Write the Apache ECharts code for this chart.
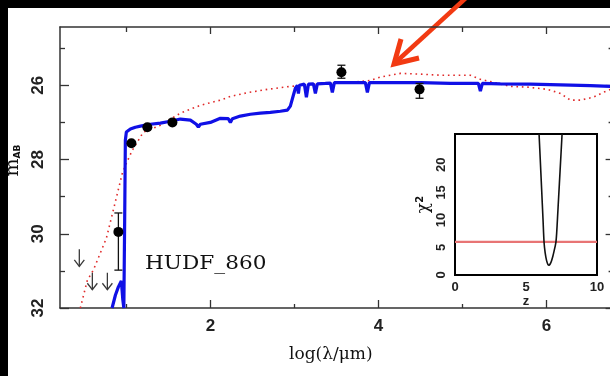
<!DOCTYPE html>
<html>
<head>
<meta charset="utf-8">
<script src="https://cdn.jsdelivr.net/npm/echarts@6/dist/echarts.min.js"></script>
<style>
  html, body { margin: 0; padding: 0; background: #000; }
  #sheet { position: absolute; left: 8px; top: 8px; width: 602px; height: 368px; background: #fff; }
  #chart { position: absolute; left: 0; top: 0; width: 610px; height: 376px; }
</style>
</head>
<body>
<div id="sheet"></div>
<div id="chart"></div>
<script>
// Best-fit template SED (log wavelength, AB magnitude)
const bestFitSed = [
  [0.83,32.0],[0.87,31.65],[0.905,31.43],[0.94,31.27],[0.958,31.78],[0.97,32.0],[0.982,29.1],
  [0.988,27.48],[1.0,27.26],[1.048,27.18],[1.107,27.13],[1.167,27.10],[1.286,27.05],[1.405,27.02],
  [1.524,26.97],[1.643,26.91],[1.762,26.94],[1.833,27.05],[1.857,27.13],[1.881,27.05],[2.0,27.0],
  [2.119,26.89],[2.214,26.90],[2.238,27.0],[2.262,26.9],[2.357,26.83],[2.476,26.78],[2.595,26.75],
  [2.714,26.73],[2.833,26.70],[2.917,26.67],[2.952,26.56],[2.988,26.27],[3.012,26.08],[3.036,26.0],
  [3.048,26.22],[3.06,26.0],[3.083,25.97],[3.119,25.97],[3.143,26.32],[3.167,25.97],[3.226,25.96],
  [3.25,26.22],[3.274,25.96],[3.369,25.95],[3.429,25.94],[3.452,26.19],[3.476,25.93],[3.607,25.93],
  [3.786,25.93],[3.845,25.93],[3.869,26.19],[3.893,25.93],[4.143,25.93],[4.5,25.93],[4.857,25.95],
  [5.155,25.95],[5.19,25.95],[5.214,26.16],[5.238,25.95],[5.452,25.96],[5.81,25.97],[6.167,25.99],
  [6.524,26.01],[6.8,26.03]
];

// Secondary (low-redshift) solution, drawn dotted
const altSed = [
  [0.452,32.0],[0.536,31.25],[0.607,30.98],[0.690,30.52],[0.762,30.12],[0.845,29.36],[0.952,28.37],
  [1.0,28.10],[1.071,27.75],[1.131,27.53],[1.202,27.26],[1.405,27.08],[1.643,26.75],[1.881,26.54],
  [2.119,26.40],[2.238,26.30],[2.440,26.20],[2.679,26.11],[2.952,26.03],[3.31,25.97],[3.667,25.92],
  [3.905,25.87],[4.024,25.78],[4.262,25.68],[4.5,25.70],[4.738,25.73],[4.976,25.73],[5.095,25.73],
  [5.214,25.84],[5.369,25.92],[5.571,26.03],[5.774,26.05],[6.012,26.11],[6.167,26.22],[6.286,26.40],
  [6.405,26.40],[6.56,26.32],[6.679,26.19],[6.8,26.08]
];

// Photometry: [logLambda, mag, errTop, errBottom]
const photometry = [
  [0.905, 29.95, 29.44, 30.98],
  [1.06, 27.56, 27.56, 27.56],
  [1.25, 27.13, 27.13, 27.13],
  [1.548, 27.0, 27.0, 27.0],
  [3.56, 25.65, 25.46, 25.81],
  [4.49, 26.11, 25.95, 26.35]
];

// Non-detections (upper limits)
const upperLimits = [
  [0.44, 30.42],
  [0.595, 31.05],
  [0.774, 31.05]
];

// Main axis ticks
const xMajorTicks = [2, 4, 6];
const xMinorTicks = [1, 3, 5];
const yMajorTicks = [26, 28, 30, 32];
const yMinorTicks = [25, 27, 29, 31];

// Inset: chi-square versus redshift
const chiZ   = [5.92, 6.0, 6.1, 6.2, 6.27, 6.35, 6.45, 6.55, 6.62, 6.7, 6.8, 6.9, 7.0, 7.06, 7.11, 7.16, 7.22, 7.3, 7.4, 7.54];
const chiVal = [25.6, 21.2, 15.6, 10.0, 6.0, 4.0, 2.6, 1.9, 1.8, 2.0, 2.6, 3.5, 4.6, 5.3, 6.0, 7.6, 10.4, 14.2, 18.9, 25.6];
const chiThreshold = 6;
const insetXTicks = [0, 5, 10];
const insetYTicks = [0, 5, 10, 15, 20];

const tickFont = { fontFamily: 'Liberation Sans', fontWeight: 'bold', color: '#222' };
const frame = { lineStyle: { color: '#333', width: 1.5 } };

function mainX(pos, values, len, extra) {
  return Object.assign({
    gridIndex: 0, type: 'value', position: pos, min: 0.21, max: 6.8,
    axisLine: Object.assign({ show: true }, frame),
    axisTick: { show: true, inside: true, length: len, customValues: values, lineStyle: { color: '#333', width: 1.3 } },
    axisLabel: { show: false },
    splitLine: { show: false }
  }, extra || {});
}
function mainY(pos, values, len, extra) {
  return Object.assign({
    gridIndex: 0, type: 'value', position: pos, inverse: true, min: 24.43, max: 32,
    axisLine: Object.assign({ show: true }, frame),
    axisTick: { show: true, inside: true, length: len, customValues: values, lineStyle: { color: '#333', width: 1.3 } },
    axisLabel: { show: false },
    splitLine: { show: false }
  }, extra || {});
}

const chart = echarts.init(document.getElementById('chart'), null, { renderer: 'canvas' });

chart.setOption({
  animation: false,
  backgroundColor: 'transparent',
  grid: [
    { left: 60, top: 27, right: -3.6, bottom: 68, outerBoundsMode: 'none', containLabel: false },
    { left: 455, top: 134, right: 13, bottom: 101, outerBoundsMode: 'none', containLabel: false,
      show: true, backgroundColor: '#fff', borderColor: '#000', borderWidth: 2 }
  ],
  xAxis: [
    mainX('bottom', xMajorTicks, 8, {
      axisLabel: Object.assign({ show: true, customValues: xMajorTicks, fontSize: 17, margin: 10 }, tickFont),
      name: 'log(λ/μm)', nameLocation: 'middle', nameGap: 38,
      nameTextStyle: { fontFamily: 'DejaVu Serif', fontSize: 17, color: '#111', padding: [0, 12, 0, 0] }
    }),
    mainX('bottom', xMinorTicks, 4, { axisLine: { show: false } }),
    mainX('top', xMajorTicks, 7),
    mainX('top', xMinorTicks, 5, { axisLine: { show: false } }),
    {
      gridIndex: 1, type: 'value', min: 0, max: 10,
      axisLine: { show: false }, axisTick: { show: false }, splitLine: { show: false },
      axisLabel: Object.assign({ customValues: insetXTicks, fontSize: 13, margin: 6 }, tickFont),
      name: 'z', nameLocation: 'middle', nameGap: 19,
      nameTextStyle: { fontFamily: 'Liberation Sans', fontWeight: 'bold', fontSize: 13, color: '#222' }
    }
  ],
  yAxis: [
    mainY('left', yMajorTicks, 9, {
      axisLabel: Object.assign({ show: true, customValues: yMajorTicks, fontSize: 17, rotate: 90, margin: 13 }, tickFont),
      name: 'm{sub|AB}', nameLocation: 'middle', nameRotate: 90, nameGap: 27,
      nameTextStyle: {
        fontFamily: 'DejaVu Serif', fontSize: 19, color: '#111', padding: [0, 0, 0, 14],
        rich: { sub: { fontFamily: 'DejaVu Sans', fontSize: 9, fontWeight: 'bold', color: '#111', padding: [10, 0, 0, 0] } }
      }
    }),
    mainY('left', yMinorTicks, 5, { axisLine: { show: false } }),
    mainY('right', yMajorTicks, 8),
    mainY('right', yMinorTicks, 5, { axisLine: { show: false } }),
    {
      gridIndex: 1, type: 'value', min: 0, max: 25.6,
      axisLine: { show: false }, axisTick: { show: false }, splitLine: { show: false },
      axisLabel: Object.assign({ customValues: insetYTicks, fontSize: 13, rotate: 90, margin: 7 }, tickFont),
      name: 'χ{sup|2}', nameLocation: 'middle', nameRotate: 90, nameGap: 22,
      nameTextStyle: {
        fontFamily: 'DejaVu Serif', fontSize: 17, color: '#111',
        rich: { sup: { fontFamily: 'DejaVu Sans', fontSize: 10, fontWeight: 'bold', color: '#111', padding: [0, 0, 8, 0] } }
      }
    }
  ],
  series: [
    {
      type: 'line', xAxisIndex: 0, yAxisIndex: 0, data: altSed, showSymbol: false, clip: true,
      lineStyle: { color: '#e02a2a', width: 1.6, type: [1.6, 3.8] }, z: 3
    },
    {
      type: 'line', xAxisIndex: 0, yAxisIndex: 0, data: bestFitSed, showSymbol: false, clip: true,
      lineStyle: { color: '#1010e6', width: 3.2 }, z: 4
    },
    {
      type: 'custom', xAxisIndex: 0, yAxisIndex: 0, data: photometry, z: 5,
      renderItem: function (params, api) {
        const top = api.coord([api.value(0), api.value(2)]);
        const bot = api.coord([api.value(0), api.value(3)]);
        const style = { stroke: '#111', lineWidth: 1.3 };
        return {
          type: 'group',
          children: [
            { type: 'line', shape: { x1: top[0], y1: top[1], x2: bot[0], y2: bot[1] }, style: style },
            { type: 'line', shape: { x1: top[0] - 4, y1: top[1], x2: top[0] + 4, y2: top[1] }, style: style },
            { type: 'line', shape: { x1: bot[0] - 4, y1: bot[1], x2: bot[0] + 4, y2: bot[1] }, style: style }
          ]
        };
      }
    },
    {
      type: 'scatter', xAxisIndex: 0, yAxisIndex: 0, data: photometry.map(p => [p[0], p[1]]),
      symbolSize: 10, itemStyle: { color: '#000', opacity: 1 }, z: 6
    },
    {
      type: 'custom', xAxisIndex: 0, yAxisIndex: 0, data: upperLimits, z: 5,
      renderItem: function (params, api) {
        const p = api.coord([api.value(0), api.value(1)]);
        const tip = p[1] + 17;
        const style = { stroke: '#3a3a3a', lineWidth: 1.3, fill: null };
        return {
          type: 'group',
          children: [
            { type: 'line', shape: { x1: p[0], y1: p[1], x2: p[0], y2: tip }, style: style },
            { type: 'polyline', shape: { points: [[p[0] - 5, tip - 6.5], [p[0], tip], [p[0] + 5, tip - 6.5]] }, style: style }
          ]
        };
      }
    },
    {
      type: 'line', xAxisIndex: 4, yAxisIndex: 4, data: [[0, chiThreshold], [10, chiThreshold]],
      showSymbol: false, lineStyle: { color: '#e87474', width: 2.2 }, z: 3
    },
    {
      type: 'line', xAxisIndex: 4, yAxisIndex: 4, data: chiZ.map((z, i) => [z, chiVal[i]]),
      showSymbol: false, smooth: 0.3, clip: true, lineStyle: { color: '#111', width: 1.6 }, z: 4
    }
  ],
  graphic: [
    {
      type: 'text', x: 145, y: 255, scaleX: 1.2,
      style: { text: 'HUDF_860', font: '18px "DejaVu Serif"', fill: '#111', verticalAlign: 'top' }
    },
    {
      type: 'group', z: 100,
      children: [
        { type: 'line', shape: { x1: 467, y1: -3, x2: 396, y2: 62 }, style: { stroke: '#f23a12', lineWidth: 4.5 } },
        { type: 'polyline', shape: { points: [[401, 39], [394, 64], [419, 58]] },
          style: { stroke: '#f23a12', lineWidth: 5, fill: null, lineJoin: 'miter' } }
      ]
    }
  ]
});
</script>
</body>
</html>
